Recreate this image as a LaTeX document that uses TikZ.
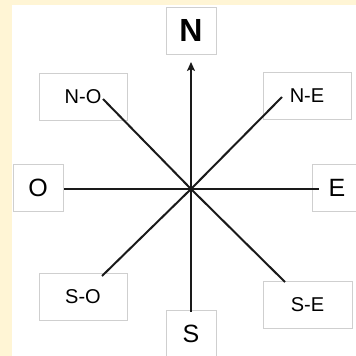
\documentclass[tikz,border=0pt]{standalone}
\usepackage{fontspec}
\setmainfont{Liberation Sans}
\usetikzlibrary{arrows.meta}
\definecolor{cream}{HTML}{FFF5D5}
\definecolor{boxgray}{HTML}{CFCFCF}
\definecolor{rayblack}{HTML}{1A1A1A}
\begin{document}
\begin{tikzpicture}[x=1pt,y=-1pt,
  box/.style={draw=boxgray, line width=0.8pt, fill=white, inner sep=0pt, anchor=center},
  bigbox/.style={box, minimum width=50pt, minimum height=47pt, font=\fontsize{25}{25}\selectfont},
  diagbox/.style={box, minimum width=88pt, minimum height=47pt, font=\fontsize{20}{20}\selectfont},
  ray/.style={line width=2pt, draw=rayblack}]
\useasboundingbox (0,0) rectangle (356,356);
\fill[cream] (0,0) rectangle (356,356);
\fill[white] (12,5) rectangle (356,356);
% boxes
\node[bigbox, font=\fontsize{32}{32}\selectfont\bfseries] (N) at (191,30.5) {N};
\node[diagbox] (NO) at (83,97) {N-O};
\node[diagbox] (NE) at (307,96) {N-E};
\node[bigbox] (O) at (38,187.5) {O};
\node[bigbox] (E) at (337,187.5) {E};
\node[diagbox] (SO) at (83,297) {S-O};
\node[bigbox, minimum height=48pt] (S) at (191,334) {S};
\node[diagbox, minimum width=89pt] (SE) at (307.5,305) {S-E};
% rays
\coordinate (c) at (191,189);
\coordinate (pn) at (191,62);
\coordinate (pnw) at (103,99);
\coordinate (pne) at (282,97);
\coordinate (psw) at (102,276);
\coordinate (pse) at (285,282);
\coordinate (pw) at (64,189);
\coordinate (pe) at (319,189);
\coordinate (ps) at (191,312);
\draw[ray, -{Stealth[length=9pt,width=8pt,inset=2pt]}] (c) -- (pn);
\draw[ray] (c) -- (pnw);
\draw[ray] (c) -- (pne);
\draw[ray] (c) -- (psw);
\draw[ray] (c) -- (pse);
\draw[ray] (c) -- (pw);
\draw[ray] (c) -- (pe);
\draw[ray] (c) -- (ps);
\end{tikzpicture}
\end{document}
